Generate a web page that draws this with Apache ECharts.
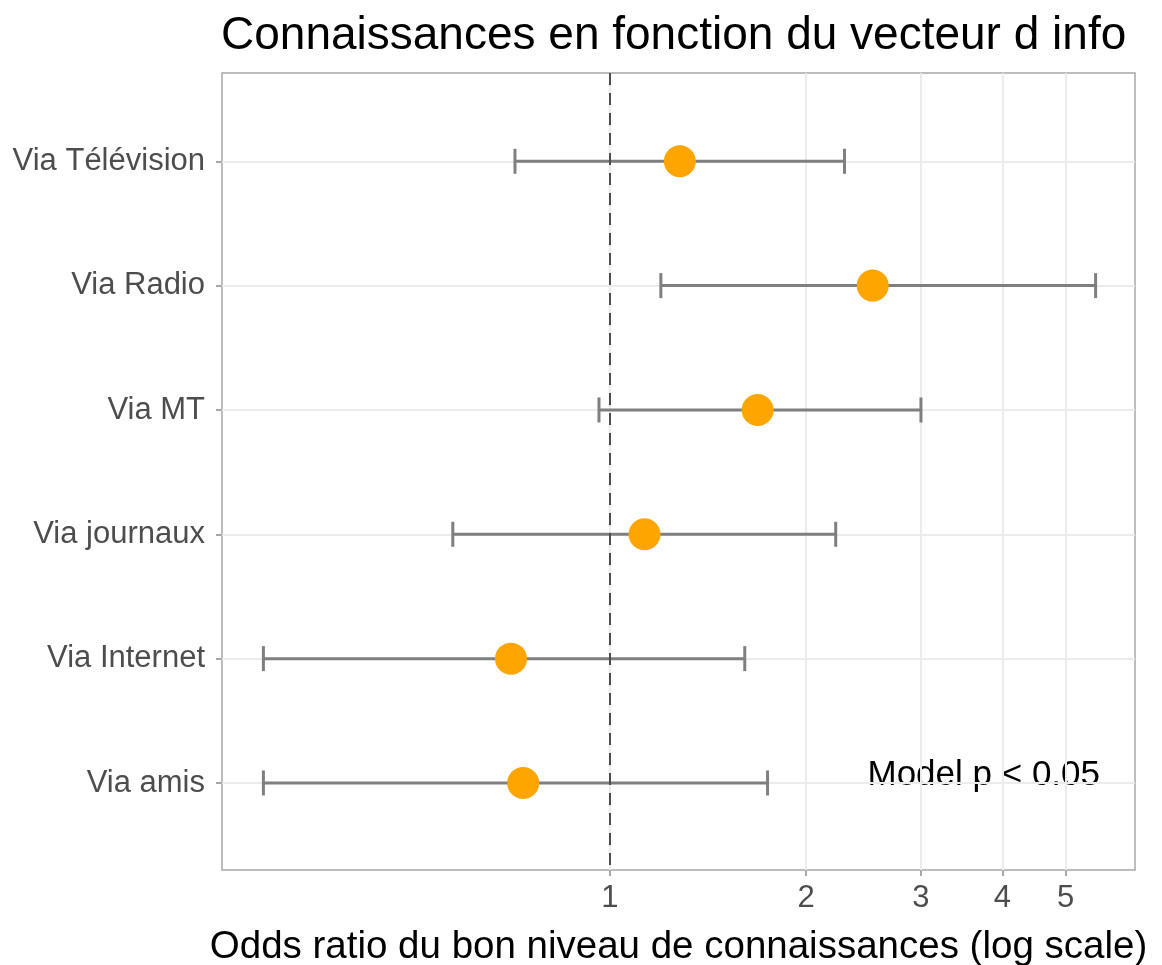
<!DOCTYPE html>
<html>
<head>
<meta charset="utf-8">
<script src="https://cdn.jsdelivr.net/npm/echarts@6/dist/echarts.min.js"></script>
<style>
  html, body { margin: 0; padding: 0; background: #fff; }
  #chart { width: 1162px; height: 965px; }
</style>
</head>
<body>
<div id="chart"></div>
<script>
// categories from top to bottom
const categories = ['Via Télévision', 'Via Radio', 'Via MT', 'Via journaux', 'Via Internet', 'Via amis'];
const oddsRatio = [1.28, 2.53, 1.685, 1.13, 0.705, 0.736];
const ciLow = [0.715, 1.197, 0.962, 0.574, 0.294, 0.294];
const ciHigh = [2.29, 5.56, 3.0, 2.22, 1.61, 1.745];
const xTicks = [1, 2, 3, 4, 5];
const yTicks = [1, 2, 3, 4, 5, 6];

const chart = echarts.init(document.getElementById('chart'));

const pointData = oddsRatio.map((v, i) => [v, i + 1]);
const barData = ciLow.map((lo, i) => [lo, ciHigh[i], i + 1]);

const font = 'Liberation Sans, Arial, Helvetica, sans-serif';

const option = {
  animation: false,
  title: {
    text: 'Connaissances en fonction du vecteur d info',
    left: 216,
    top: 8,
    textStyle: { fontFamily: font, fontSize: 46, fontWeight: 'normal', color: '#000' }
  },
  grid: {
    left: 222, right: 27, top: 73, bottom: 95,
    outerBoundsMode: 'none', containLabel: false,
    show: true, borderColor: '#a8a8a8', borderWidth: 1.5
  },
  xAxis: {
    type: 'log',
    logBase: 10,
    min: 0.254,
    max: 6.39,
    name: 'Odds ratio du bon niveau de connaissances (log scale)',
    nameLocation: 'middle',
    nameGap: 58,
    nameTextStyle: { fontFamily: font, fontSize: 38.5, color: '#000' },
    axisLine: { show: false },
    axisTick: { show: true, length: 6, customValues: xTicks, lineStyle: { color: '#a8a8a8', width: 2 } },
    axisLabel: { customValues: xTicks, fontFamily: font, fontSize: 31, color: '#4d4d4d', margin: 13 },
    splitLine: { show: true, lineStyle: { color: '#ebebeb', width: 2 } },
    minorSplitLine: { show: false }
  },
  yAxis: {
    type: 'value',
    inverse: true,
    min: 0.29,
    max: 6.7,
    axisLine: { show: false },
    axisTick: { show: true, length: 6, customValues: yTicks, lineStyle: { color: '#a8a8a8', width: 2 } },
    axisLabel: {
      customValues: yTicks,
      fontFamily: font, fontSize: 31, color: '#4d4d4d', margin: 17,
      formatter: v => categories[Math.round(v) - 1] || ''
    },
    splitLine: { show: true, lineStyle: { color: '#ebebeb', width: 2 } }
  },
  graphic: [{
    type: 'text',
    right: 62,
    top: 758,
    style: { text: 'Model p < 0.05', fontFamily: font, fontSize: 35, fill: '#000' }
  }],
  series: [
    {
      type: 'line',
      data: [],
      z: 1,
      markLine: {
        silent: true,
        symbol: 'none',
        label: { show: false },
        lineStyle: { color: '#4d4d4d', type: [12, 8], width: 2 },
        data: [{ xAxis: 1 }]
      }
    },
    {
      type: 'custom',
      z: 2,
      encode: { x: [0, 1], y: 2 },
      data: barData,
      renderItem: function (params, api) {
        const a = api.coord([api.value(0), api.value(2)]);
        const b = api.coord([api.value(1), api.value(2)]);
        const h = 12.5;
        const style = { stroke: '#7f7f7f', lineWidth: 3 };
        return {
          type: 'group',
          children: [
            { type: 'line', shape: { x1: a[0], y1: a[1], x2: b[0], y2: b[1] }, style },
            { type: 'line', shape: { x1: a[0], y1: a[1] - h, x2: a[0], y2: a[1] + h }, style },
            { type: 'line', shape: { x1: b[0], y1: b[1] - h, x2: b[0], y2: b[1] + h }, style }
          ]
        };
      }
    },
    {
      type: 'scatter',
      z: 3,
      data: pointData,
      symbolSize: 32,
      itemStyle: { color: '#FFA500', opacity: 1 }
    }
  ]
};

chart.setOption(option);
</script>
</body>
</html>
